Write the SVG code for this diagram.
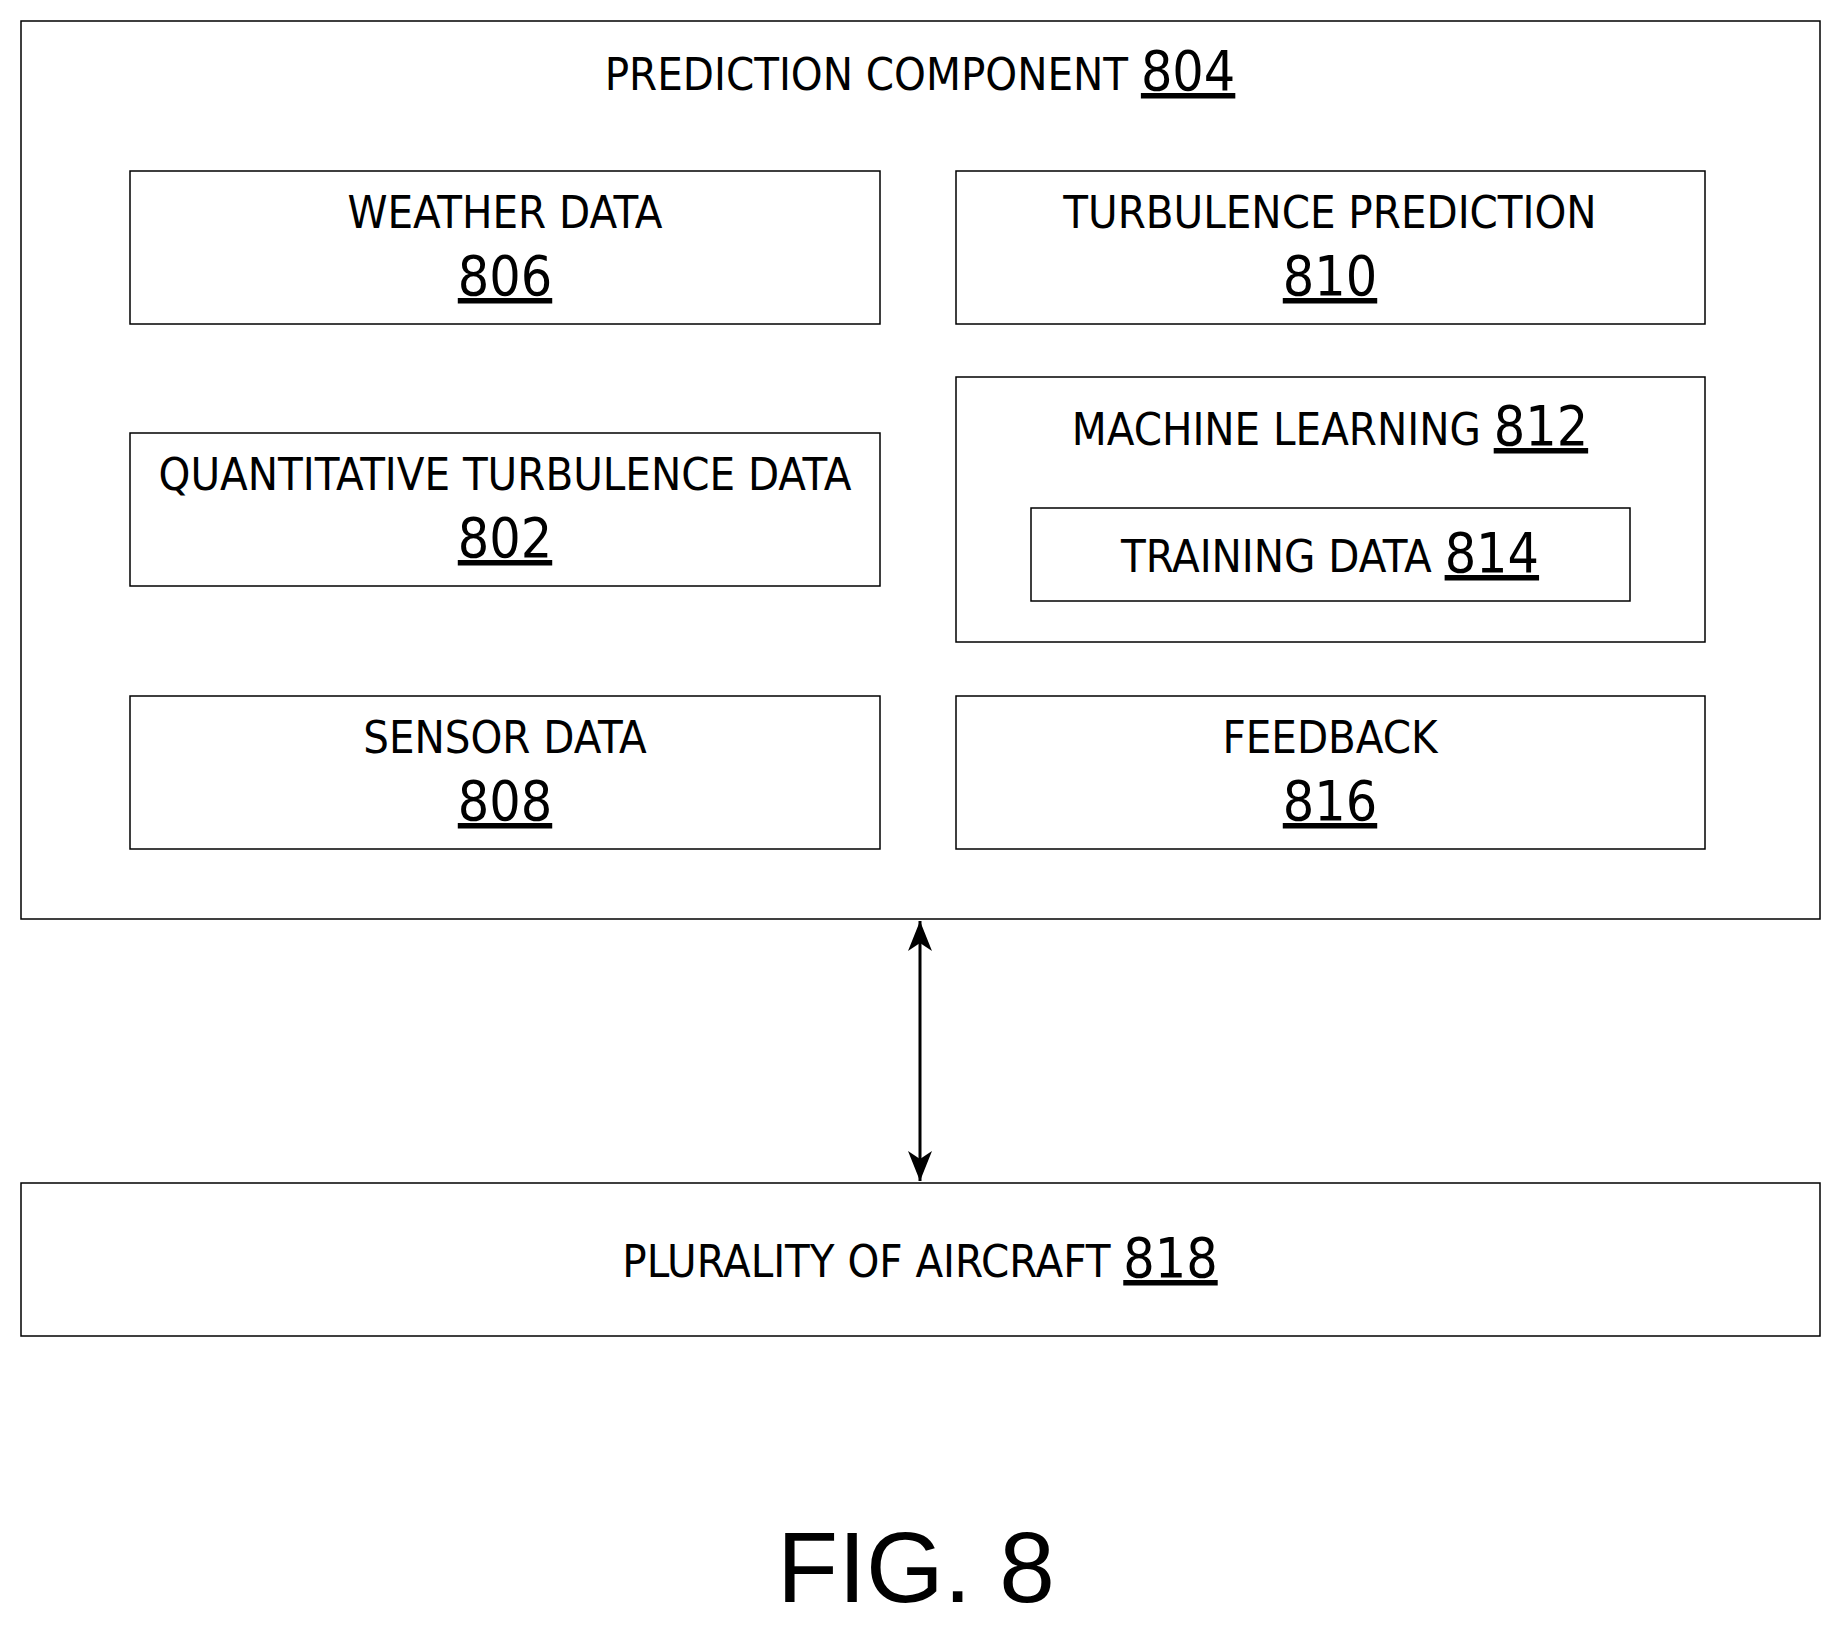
<svg xmlns="http://www.w3.org/2000/svg" width="1841" height="1628" viewBox="0 0 1841 1628">
<style>
rect{fill:#fff;stroke:#000;stroke-width:1.5}
text{font-family:"Liberation Sans Narrow","DejaVu Sans Condensed",sans-serif;font-size:45px;text-anchor:middle;fill:#000}
.n{font-size:55px;text-decoration:underline}
</style>
<defs><marker id="b" viewBox="0 0 30 24" refX="30" refY="12" markerWidth="30" markerHeight="24" markerUnits="userSpaceOnUse" orient="auto-start-reverse"><path d="M0,0L30,12L0,24L8,12z" fill="#000"/></marker></defs>
<rect x="0" y="0" width="1841" height="1628" style="stroke:none"/>
<g id="n804"><rect x="21" y="21" width="1799" height="898"/><text x="920" y="90">PREDICTION COMPONENT <tspan class="n">804</tspan></text></g>
<g id="n806"><rect x="130" y="171" width="750" height="153"/><text x="505" y="228">WEATHER DATA</text><text class="n" x="505" y="295">806</text></g>
<g id="n810"><rect x="956" y="171" width="749" height="153"/><text x="1330" y="228">TURBULENCE PREDICTION</text><text class="n" x="1330" y="295">810</text></g>
<g id="n802"><rect x="130" y="433" width="750" height="153"/><text x="505" y="490">QUANTITATIVE TURBULENCE DATA</text><text class="n" x="505" y="557">802</text></g>
<g id="n812"><rect x="956" y="377" width="749" height="265"/><text x="1330" y="445">MACHINE LEARNING <tspan class="n">812</tspan></text></g>
<g id="n814"><rect x="1031" y="508" width="599" height="93"/><text x="1330" y="572">TRAINING DATA <tspan class="n">814</tspan></text></g>
<g id="n808"><rect x="130" y="696" width="750" height="153"/><text x="505" y="753">SENSOR DATA</text><text class="n" x="505" y="820">808</text></g>
<g id="n816"><rect x="956" y="696" width="749" height="153"/><text x="1330" y="753">FEEDBACK</text><text class="n" x="1330" y="820">816</text></g>
<g id="n818"><rect x="21" y="1183" width="1799" height="153"/><text x="920" y="1277">PLURALITY OF AIRCRAFT <tspan class="n">818</tspan></text></g>
<g id="connectors"><line x1="920" y1="921" x2="920" y2="1181" stroke="#000" stroke-width="3" marker-start="url(#b)" marker-end="url(#b)"/></g>
<text x="916" y="1602" style="font-family:'Liberation Sans',sans-serif;font-size:100px">FIG. 8</text>
</svg>
